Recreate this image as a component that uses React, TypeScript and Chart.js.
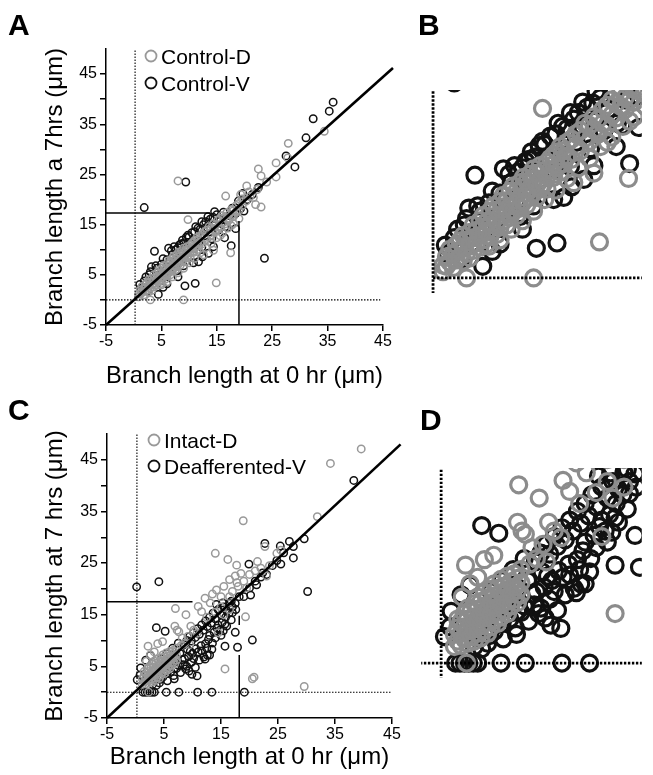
import React, { useEffect, useRef } from 'react';
import { Chart, registerables } from 'chart.js';

Chart.register(...registerables);

const FONT = "'Liberation Sans', Arial, Helvetica, sans-serif";

// ---------- axis ticks ----------
const X_TICKS = [-5, 5, 15, 25, 35, 45];
const Y_TICKS = [-5, 0, 5, 10, 15, 20, 25, 30, 35, 40, 45];
const Y_LABELS = [-5, 5, 15, 25, 35, 45];

// ---------- series labels ----------
const LABELS_TOP = ['Control-D', 'Control-V'];
const LABELS_BOTTOM = ['Intact-D', 'Deafferented-V'];

// ---------- panel A / B data (x = length at 0 hr, y = length at 7 hrs) ----------
const controlD: [number, number][] = [
  [0.9, 1.2], [0.9, 0.6], [1.2, 2.0], [1.2, 1.1], [1.5, 1.5], [1.5, 2.7], [1.8, 1.0], [1.8, 2.2],
  [2.1, 3.1], [2.1, 1.7], [2.1, 2.5], [2.4, 2.0], [2.4, 3.5], [2.7, 1.6], [2.7, 2.8], [2.7, 4.0],
  [3.0, 2.3], [3.0, 3.6], [3.3, 4.3], [3.3, 3.0], [3.3, 1.9], [3.6, 2.6], [3.6, 3.8], [3.6, 5.0],
  [3.9, 3.3], [3.9, 4.5], [4.2, 5.4], [4.2, 4.0], [4.2, 2.9], [4.5, 3.6], [4.5, 4.8], [4.5, 5.9],
  [4.8, 4.3], [4.8, 5.3], [4.8, 3.2], [5.1, 6.3], [5.1, 5.0], [5.1, 3.9], [5.4, 4.5], [5.4, 5.8],
  [5.4, 6.8], [5.7, 5.2], [5.7, 6.4], [5.7, 4.1], [6.0, 7.2], [6.0, 5.9], [6.0, 4.8], [6.3, 5.4],
  [6.3, 6.7], [6.3, 7.8], [6.6, 6.1], [6.6, 7.3], [6.6, 5.0], [6.9, 8.2], [6.9, 6.8], [6.9, 5.7],
  [7.2, 6.3], [7.2, 7.6], [7.2, 8.7], [7.5, 7.0], [7.5, 8.2], [7.5, 5.9], [7.8, 9.0], [7.8, 7.6],
  [7.8, 6.6], [8.1, 7.2], [8.1, 8.5], [8.1, 9.5], [8.4, 8.0], [8.4, 9.1], [8.4, 6.9], [8.7, 9.8],
  [8.7, 8.5], [8.7, 7.6], [9.0, 8.0], [9.0, 9.3], [9.0, 10.3], [9.3, 8.8], [9.3, 9.9], [9.3, 7.6],
  [9.6, 10.6], [9.6, 9.3], [9.6, 8.4], [9.9, 8.9], [9.9, 10.1], [10.2, 9.6], [10.2, 10.9], [10.2, 8.4],
  [10.5, 10.2], [10.5, 11.3], [10.8, 9.5], [10.8, 11.6], [10.8, 10.7], [11.1, 10.4], [11.1, 11.9], [11.4, 11.2],
  [11.4, 12.4], [11.4, 10.0], [11.7, 10.8], [11.7, 12.0], [12.0, 12.8], [12.0, 11.5], [12.4, 11.2], [12.4, 13.1],
  [12.8, 12.4], [12.8, 13.6], [13.2, 12.0], [13.2, 13.9], [13.6, 13.2], [13.6, 14.6], [14.0, 12.9], [14.0, 14.4],
  [14.4, 14.0], [14.4, 15.2], [14.8, 13.6], [14.8, 15.0], [15.2, 14.6], [15.2, 15.9], [15.6, 14.4], [15.6, 16.3],
  [16.0, 15.4], [16.0, 16.8], [16.4, 15.1], [16.4, 16.5], [16.8, 16.2], [16.8, 17.4], [17.2, 15.9], [17.2, 17.0],
  [17.6, 16.8], [17.6, 18.0], [18.0, 16.6], [18.0, 17.8], [18.5, 17.6], [18.5, 18.8], [19.0, 17.9], [19.0, 19.2],
  [19.6, 18.8], [19.6, 20.1], [20.3, 19.7], [21.0, 20.6],
  [5.0, 3.0], [6.0, 3.6], [7.0, 4.6], [8.0, 5.4], [9.0, 6.3], [10.0, 7.4], [11.0, 8.3], [12.0, 9.4],
  [13.0, 10.4], [14.0, 11.3], [15.0, 12.4], [16.0, 13.3], [17.0, 14.3], [18.0, 15.2], [19.0, 16.2], [12.6, 9.0],
  [15.6, 12.8], [17.6, 14.8],
  [3.0, 0], [9.0, 0], [14.9, 3.4], [17.5, 9.4], [14.4, 9.9], [9.8, 16.0], [8.0, 23.7], [16.6, 20.7],
  [20.4, 22.7], [21.6, 20.4], [22.0, 19.0], [23.0, 18.5], [22.5, 26.1], [23.0, 24.7], [25.7, 27.3], [25.7, 24.5],
  [27.9, 31.2], [27.8, 28.3], [34.4, 33.6], [19.3, 21.0], [20.8, 21.5], [22.3, 22.0], [24.0, 23.5],
];
const controlV: [number, number][] = [
  [1.1, 3.1], [1.3, 2.3], [1.9, 3.8], [2.5, 1.8], [2.8, 5.0], [3.2, 6.6], [3.5, 3.3], [3.75, 9.7], [4.2, 6.3], [4.45, 1.1],
  [4.6, 4.6], [5.0, 7.1], [5.3, 2.5], [5.6, 5.3], [6.0, 8.0], [6.3, 10.3], [6.6, 6.4], [7.0, 9.0], [7.4, 7.2], [7.8, 5.8],
  [8.0, 10.4], [8.4, 8.4], [8.8, 11.9], [9.0, 6.8], [9.25, 2.8], [9.5, 12.5], [9.6, 9.3], [10.2, 11.3], [10.5, 13.4], [10.8, 7.4],
  [10.8, 10.2], [11.1, 3.3], [11.6, 14.3], [11.7, 11.6], [12.3, 10.5], [12.6, 15.0], [12.8, 12.8], [13.3, 14.4], [13.8, 16.1], [14.1, 12.2],
  [14.5, 14.8], [15.0, 17.0], [15.3, 13.9], [15.7, 15.9], [16.2, 17.5], [16.5, 14.6], [16.9, 14.4], [17.2, 16.8], [17.6, 10.8], [17.8, 18.3],
  [18.4, 17.2], [18.9, 19.7], [19.3, 18.2], [19.9, 17.7], [19.7, 21.2], [20.5, 20.0], [21.4, 21.0], [22.5, 22.4], [1.9, 18.4], [9.4, 23.5],
  [23.6, 8.3], [27.5, 28.7], [29.1, 26.5], [31.1, 32.3], [32.4, 36.1], [35.3, 37.6], [36.0, 39.4],
  [7.6, 10.0], [8.3, 11.0], [9.1, 11.4], [10.0, 12.6], [11.0, 13.6], [12.0, 14.1], [13.0, 15.6], [14.3, 16.5],
  [4.0, 6.8], [5.3, 8.2], [6.8, 9.8], [7.3, 10.6], [8.6, 11.2], [9.8, 12.9], [11.2, 14.6], [12.3, 15.6],
  [13.4, 16.6], [14.6, 17.6], [3.0, 5.6], [2.2, 4.6],
  [6.0, 3.2], [8.0, 4.6], [12.4, 8.6], [14.4, 10.6], [16.4, 12.4], [18.4, 14.2], [13.5, 9.3], [11.7, 7.6],
];

// ---------- panel C / D data ----------
const intactD: [number, number][] = [
  [1.2, 1.5], [1.2, 2.6], [1.5, 2.0], [1.5, 3.2], [1.5, 4.0], [1.8, 1.6], [1.8, 2.7], [1.8, 3.8],
  [2.1, 2.2], [2.1, 3.3], [2.1, 4.5], [2.4, 1.8], [2.4, 2.9], [2.4, 4.0], [2.4, 5.0], [2.7, 2.4],
  [2.7, 3.6], [2.7, 4.7], [3.0, 2.0], [3.0, 3.1], [3.0, 4.2], [3.0, 5.4], [3.3, 2.7], [3.3, 3.8],
  [3.3, 4.9], [3.3, 6.0], [3.6, 2.3], [3.6, 3.4], [3.6, 4.5], [3.6, 5.6], [3.9, 3.0], [3.9, 4.1],
  [3.9, 5.2], [3.9, 6.4], [4.2, 2.7], [4.2, 3.7], [4.2, 4.8], [4.2, 5.9], [4.5, 3.3], [4.5, 4.4],
  [4.5, 5.5], [4.5, 6.7], [4.8, 3.9], [4.8, 5.0], [4.8, 6.1], [4.8, 7.2], [5.1, 3.6], [5.1, 4.6],
  [5.1, 5.7], [5.1, 6.8], [5.4, 4.2], [5.4, 5.3], [5.4, 6.4], [5.4, 7.6], [5.7, 4.8], [5.7, 5.9],
  [5.7, 7.0], [6.0, 4.5], [6.0, 5.6], [6.0, 6.7], [6.0, 7.9], [6.3, 5.2], [6.3, 6.3], [6.3, 7.4],
  [6.6, 5.8], [6.6, 6.9], [6.6, 8.1], [6.9, 5.5], [6.9, 6.6], [6.9, 7.7], [7.2, 6.2], [7.2, 7.3],
  [7.2, 8.5], [2.2, 8.9], [3.9, 9.4], [4.75, 9.8], [1.9, 6.0], [2.6, 7.2], [3.3, 7.8],
  [7.0, 16.2], [8.85, 15.0], [11.0, 16.6], [11.6, 15.6], [13.1, 17.3], [6.9, 12.8], [7.3, 12.0], [7.6, 11.7],
  [9.7, 12.8], [10.2, 12.0], [10.8, 11.4], [14.5, 11.5], [8.2, 10.5], [8.6, 9.5], [9.2, 10.8],
  [12.5, 14.5], [14.0, 15.5], [15.0, 16.5], [8.0, 9.0], [9.5, 9.2],
  [15.5, 15.0], [16.5, 16.0],
  [14.0, 26.9], [16.2, 25.7], [17.75, 24.6], [17.5, 22.5], [17.8, 21.2], [16.5, 21.8], [15.5, 20.5], [14.2, 19.8],
  [15.0, 18.5], [17.0, 19.5], [18.0, 20.5], [18.5, 23.0], [19.0, 21.5], [19.3, 14.6], [18.9, 33.2], [20.0, 22.8],
  [21.0, 23.5], [21.4, 25.3], [22.7, 28.2], [23.5, 24.5], [24.8, 26.9], [25.5, 27.5], [31.9, 34.0], [34.2, 44.3],
  [39.6, 47.1], [15.7, 4.5], [20.5, 2.6], [20.8, 2.9], [29.6, 1.1], [2.3, 0], [12.2, 18.2], [13.5, 19.0],
  [16.5, 18.5], [19.5, 20.2], [22.0, 24.0], [23.0, 22.5],
];
const deaffV: [number, number][] = [
  [1.3, 0], [1.7, 0], [2.1, 0], [2.5, 0], [2.9, 0], [3.3, 0], [5.4, 0], [7.6, 0], [10.9, 0], [13.4, 0], [19.1, 0],
  [0.2, 20.4], [4.1, 21.4], [38.3, 41.0], [29.6, 29.7], [27.0, 29.2], [25.4, 28.3], [22.7, 28.8], [27.7, 28.2], [27.7, 26.0],
  [25.5, 24.8], [30.2, 19.5], [19.9, 24.8], [22.3, 23.1], [21.25, 20.8], [20.2, 18.8], [20.5, 10.1], [17.5, 11.6], [17.9, 8.7], [15.7, 8.9],
  [15.4, 11.9], [15.7, 13.2], [0.3, 2.4], [0.8, 3.3], [0.9, 4.7], [3.66, 12.5], [5.2, 11.8], [9.9, 3.45], [10.8, 3.15], [9.4, 4.1],
  [3.66, 1.3], [5.6, 2.2], [5.0, 3.5], [6.7, 3.2], [6.1, 5.3], [6.9, 4.7], [8.6, 6.5], [9.0, 5.0], [9.8, 5.8], [10.5, 4.8],
  [9.1, 8.3], [10.0, 7.5], [11.0, 7.8], [12.0, 6.8], [13.0, 7.2], [12.5, 8.5], [11.5, 9.0], [13.5, 9.5],
  [8.5, 9.2], [9.0, 10.0], [9.5, 10.8], [9.8, 9.9], [10.2, 11.5], [10.5, 10.6], [10.9, 12.3], [11.2, 11.2], [11.6, 13.0], [11.9, 12.0],
  [12.3, 13.8], [12.6, 12.7], [13.0, 14.5], [13.3, 13.4], [13.6, 15.3], [14.0, 14.2], [14.5, 16.0], [15.0, 15.0], [15.5, 16.5], [16.0, 15.8],
  [16.5, 17.3], [17.0, 16.5], [14.2, 17.0], [15.3, 17.3], [16.8, 17.6], [17.5, 17.2], [18.2, 18.5], [19.0, 18.5], [20.0, 20.2], [21.0, 21.5],
  [22.0, 22.3], [23.0, 22.8], [24.0, 24.5], [24.8, 25.5], [26.0, 27.0],
  [4.0, 4.5], [5.0, 5.3], [6.0, 6.0], [7.0, 6.8], [7.8, 7.5], [6.5, 8.5], [7.5, 9.5], [5.5, 7.5], [4.5, 6.5], [3.0, 1.5],
  [4.4, 2.5], [7.2, 4.6], [8.4, 5.3], [12.2, 6.4], [12.6, 7.2], [14.0, 10.5], [14.8, 12.0], [16.0, 12.8], [16.8, 14.0], [13.0, 11.0],
  [14.5, 13.0], [2.6, 7.1], [1.8, 6.2],
  [3.5, 2.3], [4.2, 1.8], [4.8, 2.9], [5.5, 3.6], [6.2, 4.0], [6.8, 2.6], [7.5, 5.2], [7.9, 3.8], [8.2, 6.3], [8.8, 4.5],
  [9.3, 6.9], [9.6, 7.9], [10.2, 6.5], [10.6, 8.4], [11.2, 6.2], [11.6, 8.0], [12.3, 9.4], [12.8, 10.2], [13.4, 8.3], [13.8, 11.6],
  [14.3, 12.4], [15.0, 11.0], [15.2, 13.5], [15.8, 14.5], [16.4, 15.3], [17.0, 15.4], [17.6, 16.0],
];

// ---------- guide lines (data units) ----------
const A_IDENTITY: [number, number][] = [[-5, -5], [46.8, 46.2]];
const A_DOT_V: [number, number][] = [[0.25, -5], [0.25, 50]];
const A_DOT_H: [number, number][] = [[-5, 0], [44.5, 0]];
const A_SOLID_H: [number, number][] = [[-5, 17.3], [13.8, 17.3]];
const A_SOLID_V: [number, number][] = [[19, -5], [19, 15.7]];

const C_IDENTITY: [number, number][] = [[-5, -5], [46.5, 48.0]];
const C_DOT_V: [number, number][] = [[0.25, -5], [0.25, 50]];
const C_DOT_H: [number, number][] = [[-5, 0], [45, 0]];
const C_SOLID_H: [number, number][] = [[-5, 17.5], [10, 17.5]];
const C_SOLID_V1: [number, number][] = [[18.2, -5], [18.2, 7.2]];
const C_SOLID_V2: [number, number][] = [[18.2, 13.0], [18.2, 14.8]];

const ZOOM_DOT_V: [number, number][] = [[0, -3], [0, 20]];
const ZOOM_DOT_H_B: [number, number][] = [[0, 0], [20, 0]];
const ZOOM_DOT_H_D: [number, number][] = [[-3, 0], [20, 0]];

const pts = (a: [number, number][]) => a.map(([x, y]) => ({ x, y }));

const GRAY = '#999999';
const GRAY_Z = '#8c8c8c';
const BLACK = '#111111';

const textPlugin = {
  id: 'panelText',
  afterDraw(chart: any, _args: any, opts: any) {
    const ctx = chart.ctx as CanvasRenderingContext2D;
    ctx.save();
    if (opts.letter) {
      ctx.font = `bold 30px ${FONT}`;
      ctx.fillStyle = '#000';
      ctx.textBaseline = 'alphabetic';
      ctx.textAlign = 'left';
      ctx.fillText(opts.letter, opts.letterX, opts.letterY);
    }
    if (opts.legend) {
      const items = opts.legend as { label: string; color: string; x: number; y: number }[];
      items.forEach((it) => {
        ctx.beginPath();
        ctx.arc(it.x, it.y, 5.5, 0, Math.PI * 2);
        ctx.lineWidth = 1.8;
        ctx.strokeStyle = it.color;
        ctx.stroke();
        ctx.font = `21px ${FONT}`;
        ctx.fillStyle = '#000';
        ctx.textBaseline = 'alphabetic';
        ctx.textAlign = 'left';
        ctx.fillText(it.label, it.x + 10, it.y + 7.5);
      });
    }
    ctx.restore();
  },
};

function lineDs(data: [number, number][], width: number, dash: number[] = [], clip: any = undefined) {
  const ds: any = {
    data: pts(data),
    showLine: true,
    borderColor: '#000',
    borderWidth: width,
    borderDash: dash,
    pointRadius: 0,
    pointHoverRadius: 0,
    fill: false,
  };
  if (clip !== undefined) ds.clip = clip;
  return ds;
}

function pointDs(label: string, data: [number, number][], color: string, r: number, w: number) {
  return {
    label,
    data: pts(data),
    showLine: false,
    pointStyle: 'circle',
    pointRadius: r,
    pointHoverRadius: r,
    pointBorderWidth: w,
    pointBorderColor: color,
    pointBackgroundColor: 'rgba(0,0,0,0)',
    borderColor: color,
    backgroundColor: 'rgba(0,0,0,0)',
  };
}

function mainConfig(p: any) {
  const tickFont = { family: FONT, size: 16 };
  const titleFont = { family: FONT, size: 24 };
  return {
    type: 'scatter',
    data: {
      datasets: [
        ...p.lines,
        pointDs(p.labels[0], p.gray, GRAY, 3.7, 1.5),
        pointDs(p.labels[1], p.black, BLACK, 3.7, 1.5),
      ],
    },
    options: {
      animation: false,
      responsive: false,
      maintainAspectRatio: false,
      events: [],
      layout: { padding: p.padding },
      plugins: {
        legend: { display: false },
        tooltip: { enabled: false },
        panelText: {
          letter: p.letter,
          letterX: p.letterX,
          letterY: p.letterY,
          legend: [
            { label: p.labels[0], color: GRAY, x: p.legX, y: p.legY[0] },
            { label: p.labels[1], color: BLACK, x: p.legX, y: p.legY[1] },
          ],
        },
      },
      scales: {
        x: {
          type: 'linear',
          min: -5,
          max: 45,
          afterBuildTicks: (s: any) => {
            s.ticks = X_TICKS.map((v) => ({ value: v }));
          },
          afterFit: (s: any) => {
            s.height = p.xHeight;
          },
          grid: { drawOnChartArea: false, drawTicks: true, tickLength: 6, color: '#000', lineWidth: 1.5 },
          border: { display: true, color: '#000', width: 1.5 },
          ticks: { font: tickFont, color: '#000', padding: 1, maxRotation: 0, autoSkip: false },
          title: { display: true, text: p.xTitle, font: titleFont, color: '#000', padding: { top: 0, bottom: p.xTitlePad } },
        },
        y: {
          type: 'linear',
          min: -5,
          max: 50,
          afterBuildTicks: (s: any) => {
            s.ticks = Y_TICKS.map((v) => ({ value: v }));
          },
          afterFit: (s: any) => {
            s.width = p.yWidth;
          },
          grid: { drawOnChartArea: false, drawTicks: true, tickLength: 6, color: '#000', lineWidth: 1.5 },
          border: { display: true, color: '#000', width: 1.5 },
          ticks: {
            font: tickFont,
            color: '#000',
            padding: 3,
            autoSkip: false,
            callback: (v: any) => (Y_LABELS.includes(Number(v)) ? String(v) : ''),
          },
          title: { display: true, text: p.yTitle, font: titleFont, color: '#000', padding: { top: p.yTitlePad, bottom: 0 } },
        },
      },
    },
    plugins: [textPlugin],
  };
}

function zoomConfig(p: any) {
  return {
    type: 'scatter',
    data: {
      datasets: [
        ...p.lines,
        pointDs(p.labels[0], p.gray, GRAY_Z, 8, 3.2),
        pointDs(p.labels[1], p.black, BLACK, 8, 3.2),
      ],
    },
    options: {
      animation: false,
      responsive: false,
      maintainAspectRatio: false,
      events: [],
      layout: { padding: p.padding },
      plugins: {
        legend: { display: false },
        tooltip: { enabled: false },
        panelText: { letter: p.letter, letterX: p.letterX, letterY: p.letterY },
      },
      scales: {
        x: { type: 'linear', display: false, min: p.xr[0], max: p.xr[1] },
        y: { type: 'linear', display: false, min: p.yr[0], max: p.yr[1] },
      },
    },
    plugins: [textPlugin],
  };
}

function Panel({ left, top, width, height, config }: any) {
  const ref = useRef<HTMLCanvasElement>(null);
  useEffect(() => {
    const chart = new Chart(ref.current as HTMLCanvasElement, config as any);
    return () => chart.destroy();
  }, []);
  return (
    <canvas
      ref={ref}
      width={width}
      height={height}
      style={{ position: 'absolute', left, top, width, height, display: 'block' }}
    />
  );
}

const cfgA = mainConfig({
  lines: [
    lineDs(A_IDENTITY, 2.6, [], false),
    lineDs(A_DOT_V, 1.1, [1.5, 1.5]),
    lineDs(A_DOT_H, 1.1, [1.5, 1.5]),
    lineDs(A_SOLID_H, 1.5),
    lineDs(A_SOLID_V, 1.5),
  ],
  gray: controlD,
  black: controlV,
  labels: LABELS_TOP,
  padding: { left: 0, right: 27, top: 49, bottom: 0 },
  xHeight: 67,
  yWidth: 106,
  xTitle: 'Branch length at 0 hr (μm)',
  yTitle: 'Branch length a 7hrs (μm)',
  xTitlePad: 1.6,
  yTitlePad: 41,
  letter: 'A',
  letterX: 8,
  letterY: 35,
  legX: 151,
  legY: [56, 83],
});

const cfgB = zoomConfig({
  lines: [lineDs(ZOOM_DOT_V, 2.8, [2.4, 1.6]), lineDs(ZOOM_DOT_H_B, 2.8, [2.4, 1.6])],
  gray: controlD,
  black: controlV,
  labels: LABELS_TOP,
  padding: { left: 10, right: 0, top: 90, bottom: 99 },
  xr: [-1.06, 18.69],
  yr: [-1.42, 17.74],
  letter: 'B',
  letterX: 8,
  letterY: 35,
});

const cfgC = mainConfig({
  lines: [
    lineDs(C_IDENTITY, 2.6, [], false),
    lineDs(C_DOT_V, 1.1, [1.5, 1.5]),
    lineDs(C_DOT_H, 1.1, [1.5, 1.5]),
    lineDs(C_SOLID_H, 1.5),
    lineDs(C_SOLID_V1, 1.5),
    lineDs(C_SOLID_V2, 1.5),
  ],
  gray: intactD,
  black: deaffV,
  labels: LABELS_BOTTOM,
  padding: { left: 0, right: 18, top: 42, bottom: 0 },
  xHeight: 57,
  yWidth: 107,
  xTitle: 'Branch length at 0 hr (μm)',
  yTitle: 'Branch length at 7 hrs (μm)',
  xTitlePad: 3.6,
  yTitlePad: 41,
  letter: 'C',
  letterX: 8,
  letterY: 28,
  legX: 154,
  legY: [48, 74],
});

const cfgD = zoomConfig({
  lines: [lineDs(ZOOM_DOT_V, 2.8, [2.4, 1.6]), lineDs(ZOOM_DOT_H_D, 2.8, [2.4, 1.6])],
  gray: intactD,
  black: deaffV,
  labels: LABELS_BOTTOM,
  padding: { left: 0, right: 0, top: 76, bottom: 97 },
  xr: [-1.8, 18.11],
  yr: [-1.36, 17.73],
  letter: 'D',
  letterX: 10,
  letterY: 38,
});

export default function App() {
  return (
    <div style={{ position: 'absolute', left: 0, top: 0, width: 653, height: 775, background: '#fff', overflow: 'hidden' }}>
      <Panel left={0} top={0} width={410} height={392} config={cfgA} />
      <Panel left={410} top={0} width={243} height={392} config={cfgB} />
      <Panel left={0} top={392} width={410} height={383} config={cfgC} />
      <Panel left={410} top={392} width={243} height={383} config={cfgD} />
    </div>
  );
}
